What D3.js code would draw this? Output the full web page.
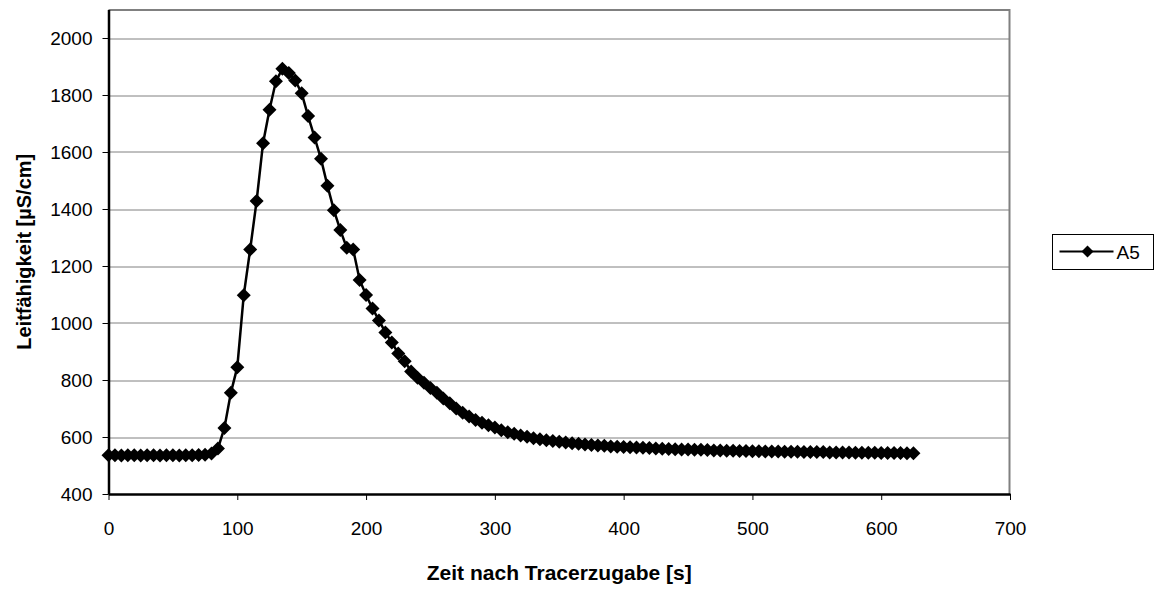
<!DOCTYPE html>
<html>
<head>
<meta charset="utf-8">
<title>Leitfähigkeit A5</title>
<script src="https://d3js.org/d3.v7.min.js"></script>
<style>
body { margin: 0; background: #fff; font-family: "Liberation Sans", Arial, sans-serif; }
.grid line { stroke: #808080; stroke-width: 1; }
.axis text { font-size: 19px; fill: #000; font-family: "Liberation Sans", Arial, sans-serif; }
.axis path, .axis line { stroke: #000; }
</style>
</head>
<body>
<div id="chart"></div>
<script>
// time after tracer injection [s], one reading every 5 s
var times = d3.range(0, 626, 5);

// conductivity readings [µS/cm]
var values = [
  536, 536, 535, 536, 536, 535, 536, 536, 535, 536, 536, 535, 536, 536, 537, 538,
  542, 560, 632, 755, 845, 1097, 1258, 1428, 1631, 1748, 1848, 1892, 1877, 1851,
  1806, 1726, 1651, 1576, 1482, 1396, 1326, 1264, 1258, 1151, 1098, 1051, 1009, 967,
  932, 893, 866, 830, 808, 790, 772, 755, 735, 718, 700, 685, 672, 660, 650, 641,
  633, 624, 617, 611, 605, 601, 596, 592, 589, 586, 583, 581, 578, 576, 574, 572,
  570, 569, 567, 566, 565, 564, 563, 562, 561, 560, 559, 558, 557, 556, 556, 555,
  555, 554, 553, 553, 552, 552, 551, 551, 550, 550, 549, 549, 549, 548, 548, 548,
  547, 547, 547, 547, 546, 546, 546, 546, 545, 545, 545, 545, 544, 544, 544, 544,
  543, 543
];

var xTicks = [0, 100, 200, 300, 400, 500, 600, 700];
var yTicks = [400, 600, 800, 1000, 1200, 1400, 1600, 1800, 2000];
var seriesName = "A5";

var data = times.map(function(t, i) { return { t: t, v: values[i] }; });

var W = 1158, H = 590;
var margin = { top: 9.5, right: 148, bottom: 96, left: 108.5 };
var width = W - margin.left - margin.right,
    height = H - margin.top - margin.bottom;

var svg = d3.select("#chart").append("svg")
    .attr("width", W)
    .attr("height", H);

var g = svg.append("g")
    .attr("transform", "translate(" + margin.left + "," + margin.top + ")");

var x = d3.scaleLinear().domain([0, 700]).range([0, width]);
var y = d3.scaleLinear().domain([400, 2100]).range([height, 0]);

// horizontal grid lines
g.append("g").attr("class", "grid")
  .selectAll("line")
  .data(yTicks.filter(function(d) { return d > 400; }))
  .enter().append("line")
    .attr("x1", 0).attr("x2", width)
    .attr("y1", function(d) { return Math.round(y(d)) + 0.5; })
    .attr("y2", function(d) { return Math.round(y(d)) + 0.5; });

// top and right frame (grey)
g.append("path")
  .attr("d", "M0,0.5H" + (width - 0.5) + "V" + height)
  .attr("fill", "none")
  .attr("stroke", "#808080")
  .attr("stroke-width", 2);

// axes
var xAxis = g.append("g").attr("class", "axis")
  .attr("transform", "translate(0," + height + ")")
  .call(d3.axisBottom(x).tickValues(xTicks).tickFormat(d3.format("d"))
    .tickSize(6).tickPadding(22).tickSizeOuter(0));
xAxis.select(".domain").attr("stroke-width", 2.5).attr("stroke", "#222");

var yAxis = g.append("g").attr("class", "axis")
  .call(d3.axisLeft(y).tickValues(yTicks).tickFormat(d3.format("d"))
    .tickSize(6).tickPadding(10).tickSizeOuter(0));
yAxis.select(".domain").attr("stroke-width", 2.5).attr("stroke", "#222");

// series line
var line = d3.line()
  .x(function(d) { return x(d.t); })
  .y(function(d) { return y(d.v); });

g.append("path")
  .datum(data)
  .attr("fill", "none")
  .attr("stroke", "#000")
  .attr("stroke-width", 2.5)
  .attr("d", line);

var diamond = "M0,-7L7,0L0,7L-7,0Z";

g.append("g")
  .selectAll("path")
  .data(data)
  .enter().append("path")
    .attr("d", diamond)
    .attr("fill", "#000")
    .attr("transform", function(d) { return "translate(" + x(d.t) + "," + y(d.v) + ")"; });

// axis titles
g.append("text")
  .attr("x", width / 2)
  .attr("y", height + 86)
  .attr("text-anchor", "middle")
  .style("font-size", "21px")
  .style("font-weight", "bold")
  .text("Zeit nach Tracerzugabe [s]");

g.append("text")
  .attr("transform", "rotate(-90)")
  .attr("x", -height / 2)
  .attr("y", -78)
  .attr("text-anchor", "middle")
  .style("font-size", "20px")
  .style("font-weight", "bold")
  .text("Leitfähigkeit [µS/cm]");

// legend
var lg = svg.append("g").attr("transform", "translate(1052.5,234.5)");
lg.append("rect")
  .attr("width", 101).attr("height", 35)
  .attr("fill", "#fff").attr("stroke", "#000").attr("stroke-width", 1);
lg.append("line")
  .attr("x1", 7).attr("x2", 61).attr("y1", 17).attr("y2", 17)
  .attr("stroke", "#000").attr("stroke-width", 2);
lg.append("path")
  .attr("d", "M0,-6L6,0L0,6L-6,0Z")
  .attr("transform", "translate(35,17)");
lg.append("text")
  .attr("x", 64).attr("y", 24)
  .style("font-size", "19px")
  .text(seriesName);
</script>
</body>
</html>
